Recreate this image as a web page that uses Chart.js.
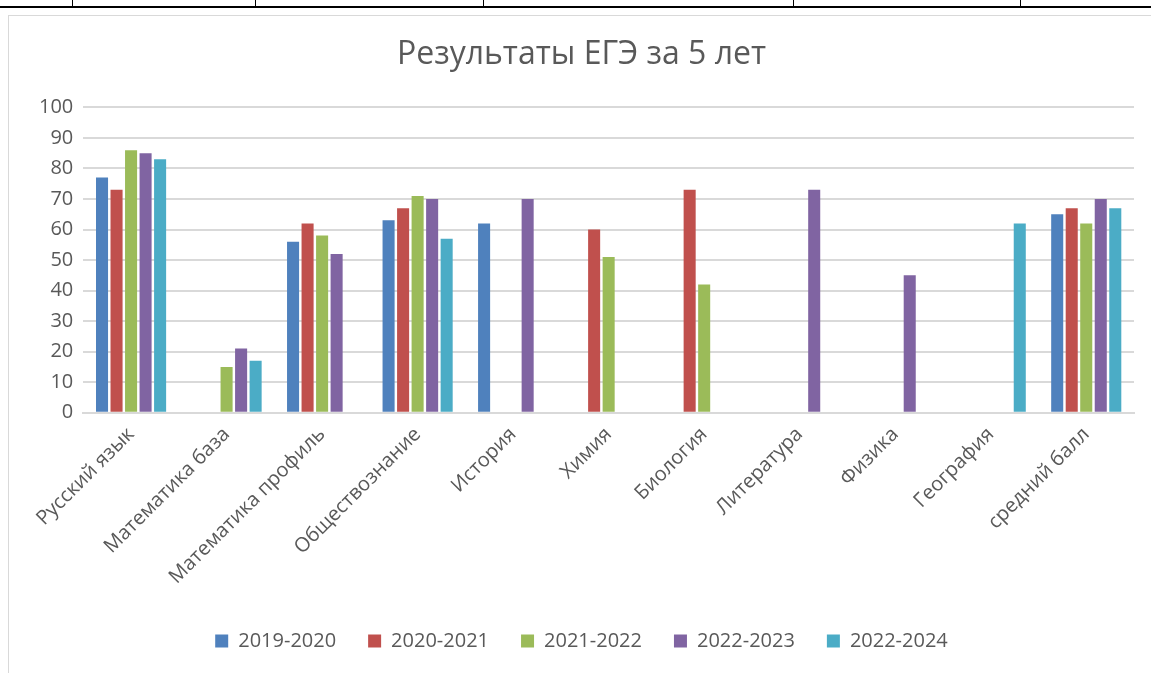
<!DOCTYPE html>
<html lang="ru">
<head>
    <meta charset="UTF-8">
    <title>Результаты ЕГЭ за 5 лет</title>
    <script src="https://cdn.jsdelivr.net/npm/chart.js"></script>
    <style>
        html, body { margin: 0; padding: 0; background: #fff; }
        body { width: 1151px; height: 673px; position: relative; overflow: hidden; font-family: "Open Sans", sans-serif; }
        /* table lines of the document around the chart */
        #tableLine { position: absolute; left: 0; top: 6px; width: 1151px; height: 2px; background: #000; }
        .tick { position: absolute; top: 0; width: 1px; height: 7px; background: #000; }
        #chartBox {
            position: absolute; left: 8px; top: 15px; width: 1143px; height: 658px;
            border-left: 1px solid #d9d9d9; border-top: 1px solid #d9d9d9;
        }
    </style>
</head>
<body>
    <div id="tableLine"></div>
    <div class="tick" style="left:72px"></div>
    <div class="tick" style="left:255px"></div>
    <div class="tick" style="left:483px"></div>
    <div class="tick" style="left:793px"></div>
    <div class="tick" style="left:1020px"></div>

    <div id="chartBox">
        <canvas id="egeChart" width="1142" height="657"></canvas>
    </div>

    <script>
        // Data for the chart
        const subjects = [
            "Русский язык", "Математика база", "Математика профиль", "Обществознание", "История",
            "Химия", "Биология", "Литература", "Физика", "География", "средний балл"
        ];
        const years = ["2019-2020", "2020-2021", "2021-2022", "2022-2023", "2022-2024"];

        const y2019 = [77, null, 56, 63, 62, null, null, null, null, null, 65];
        const y2020 = [73, null, 62, 67, null, 60, 73, null, null, null, 67];
        const y2021 = [86, 15, 58, 71, null, 51, 42, null, null, null, 62];
        const y2022 = [85, 21, 52, 70, 70, null, null, 73, 45, null, 70];
        const y2024 = [83, 17, null, 57, null, null, null, null, null, 62, 67];

        const colors = ["#4F81BD", "#C0504D", "#9BBB59", "#8064A2", "#4BACC6"];
        const textColor = "#595959";
        const fontFamily = '"Open Sans", sans-serif';

        const seriesData = [y2019, y2020, y2021, y2022, y2024];

        const ctx = document.getElementById('egeChart').getContext('2d');

        const egeChart = new Chart(ctx, {
            type: 'bar',
            data: {
                labels: subjects,
                datasets: seriesData.map((values, i) => ({
                    label: years[i],
                    data: values,
                    backgroundColor: colors[i],
                    borderWidth: 0,
                    barPercentage: 0.83,
                    categoryPercentage: 0.76
                }))
            },
            options: {
                responsive: false,
                animation: false,
                layout: {
                    padding: { left: 20, right: 17, top: 8, bottom: 12 }
                },
                plugins: {
                    title: {
                        display: true,
                        text: 'Результаты ЕГЭ за 5 лет',
                        color: textColor,
                        font: { family: fontFamily, size: 32, weight: 'normal' },
                        padding: { top: 12, bottom: 33 }
                    },
                    legend: {
                        position: 'bottom',
                        labels: {
                            color: textColor,
                            font: { family: fontFamily, size: 20 },
                            boxWidth: 13,
                            boxHeight: 13,
                            padding: 32
                        }
                    },
                    tooltip: { enabled: false }
                },
                scales: {
                    x: {
                        grid: { display: false, drawTicks: false },
                        border: { color: '#d9d9d9', width: 2 },
                        ticks: {
                            color: textColor,
                            font: { family: fontFamily, size: 20 },
                            maxRotation: 45,
                            minRotation: 45,
                            padding: 10
                        }
                    },
                    y: {
                        min: 0,
                        max: 100,
                        grid: { color: '#d9d9d9', lineWidth: 2, drawTicks: false },
                        border: { display: false },
                        ticks: {
                            stepSize: 10,
                            color: textColor,
                            font: { family: fontFamily, size: 20 },
                            padding: 10
                        }
                    }
                }
            }
        });
    </script>
</body>
</html>
